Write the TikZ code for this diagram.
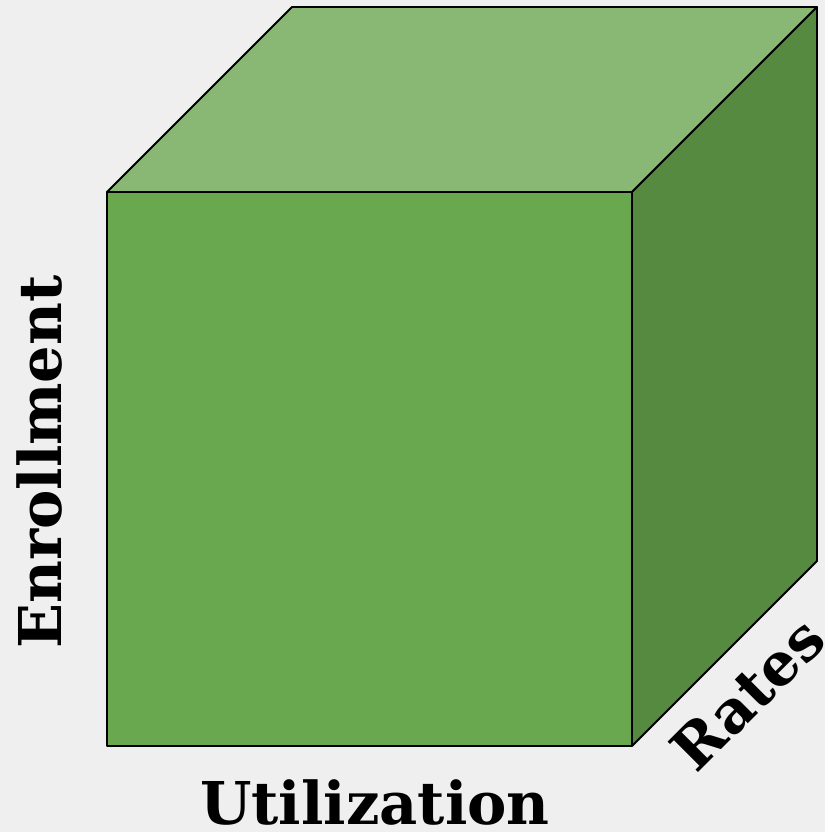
\documentclass[tikz,border=0pt]{standalone}
\usepackage{fontspec}
\setmainfont{DejaVu Serif}
\definecolor{bgc}{HTML}{EFEFEF}
\definecolor{frontc}{HTML}{6AA84F}
\definecolor{topc}{HTML}{88B873}
\definecolor{sidec}{HTML}{558A40}
\tikzset{
  face/.style={draw=black, line width=1.8pt, line join=round},
  axislabel/.style={font=\bfseries\fontsize{59}{64}\selectfont, inner sep=0pt, text=black}
}
\begin{document}
\begin{tikzpicture}[x=1pt,y=-1pt]
  \fill[bgc] (0,0) rectangle (825,832);
  \useasboundingbox (0,0) rectangle (825,832);
  % cube corners
  \coordinate (ftl) at (107,192);
  \coordinate (ftr) at (632,192);
  \coordinate (fbl) at (107,746);
  \coordinate (fbr) at (632,746);
  \coordinate (btl) at (292,7);
  \coordinate (btr) at (817,7);
  \coordinate (bbr) at (817,561);
  % faces
  \filldraw[face, fill=topc] (ftl) -- (btl) -- (btr) -- (ftr) -- cycle;
  \filldraw[face, fill=sidec] (ftr) -- (btr) -- (bbr) -- (fbr) -- cycle;
  \filldraw[face, fill=frontc] (ftl) -- (ftr) -- (fbr) -- (fbl) -- cycle;
  % axis labels
  \node[axislabel, rotate=90] (enroll) at (40,462) {Enrollment};
  \node[axislabel] (util) at (375,802) {Utilization};
  \node[axislabel, rotate=45] (rates) at (748,694) {Rates};
\end{tikzpicture}
\end{document}
